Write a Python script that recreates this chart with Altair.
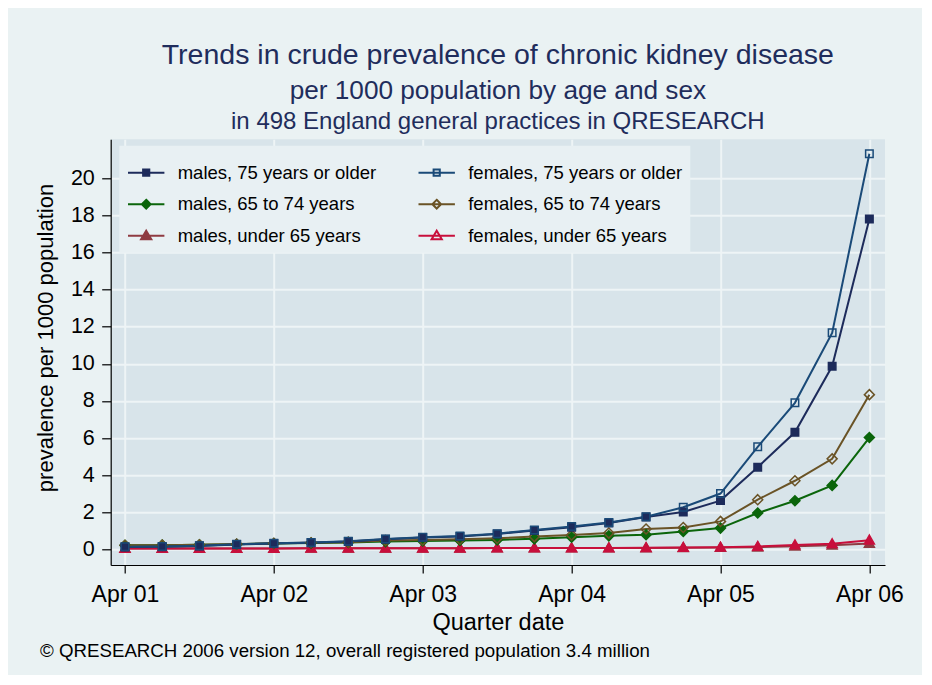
import altair as alt
import pandas as pd

# ---------------- data ----------------
QUARTERS = ["Apr 01", "Jul 01", "Oct 01", "Jan 02", "Apr 02", "Jul 02", "Oct 02",
            "Jan 03", "Apr 03", "Jul 03", "Oct 03", "Jan 04", "Apr 04", "Jul 04",
            "Oct 04", "Jan 05", "Apr 05", "Jul 05", "Oct 05", "Jan 06", "Apr 06"]
TICK_LABELS = ["Apr 01", "Apr 02", "Apr 03", "Apr 04", "Apr 05", "Apr 06"]

# legend order (filled column by column: males left, females right)
SERIES = ["males, 75 years or older", "males, 65 to 74 years", "males, under 65 years",
          "females, 75 years or older", "females, 65 to 74 years", "females, under 65 years"]

males_75 = [0.13, 0.15, 0.19, 0.27, 0.32, 0.36, 0.43, 0.55, 0.64, 0.70, 0.83,
            1.02, 1.20, 1.42, 1.75, 2.02, 2.63, 4.43, 6.31, 9.87, 17.80]
females_75 = [0.14, 0.16, 0.20, 0.28, 0.33, 0.37, 0.44, 0.56, 0.66, 0.72, 0.85,
              1.05, 1.23, 1.45, 1.76, 2.27, 3.01, 5.53, 7.90, 11.67, 21.32]
males_65 = [0.22, 0.23, 0.25, 0.28, 0.32, 0.34, 0.37, 0.42, 0.46, 0.48, 0.51,
            0.57, 0.66, 0.73, 0.79, 0.97, 1.15, 1.96, 2.62, 3.45, 6.03]
females_65 = [0.22, 0.23, 0.25, 0.29, 0.33, 0.36, 0.39, 0.48, 0.51, 0.55, 0.60,
              0.69, 0.78, 0.88, 1.10, 1.18, 1.51, 2.68, 3.70, 4.88, 8.34]
males_u65 = [0.05, 0.05, 0.05, 0.05, 0.05, 0.06, 0.06, 0.06, 0.06, 0.06, 0.07,
             0.07, 0.07, 0.08, 0.08, 0.09, 0.10, 0.12, 0.17, 0.22, 0.32]
females_u65 = [0.05, 0.05, 0.05, 0.05, 0.05, 0.06, 0.06, 0.06, 0.06, 0.06, 0.07,
               0.07, 0.07, 0.08, 0.09, 0.10, 0.12, 0.16, 0.24, 0.30, 0.50]

TITLE1 = "Trends in crude prevalence of chronic kidney disease"
TITLE2 = "per 1000 population by age and sex"
TITLE3 = "in 498 England general practices in QRESEARCH"
FOOTER = "\u00a9 QRESEARCH 2006 version 12, overall registered population 3.4 million"
X_TITLE = "Quarter date"
Y_TITLE = "prevalence per 1000 population"

# drawing order: under 65 first, 75+ last (on top)
draw_order = [("males, under 65 years", males_u65), ("females, under 65 years", females_u65),
              ("males, 65 to 74 years", males_65), ("females, 65 to 74 years", females_65),
              ("males, 75 years or older", males_75), ("females, 75 years or older", females_75)]
rows = []
for name, vals in draw_order:
    for i, v in enumerate(vals):
        rows.append({"q": i, "quarter": QUARTERS[i], "value": v, "series": name})
df = pd.DataFrame(rows)

# ---------------- styles (same order as SERIES) ----------------
COLORS = ["#1D2B5B", "#0B650B", "#8F3B42", "#1A4A78", "#6A5326", "#C80F3C"]
FILLS_PLOT = ["#1D2B5B", "#0B650B", "#8F3B42", "transparent", "transparent", "#C80F3C"]
FILLS_LEG = ["#1D2B5B", "#0B650B", "#8F3B42", "transparent", "transparent", "transparent"]
SQ = "M-0.75,-0.75H0.75V0.75H-0.75Z"
DI = "M0,-1L1,0L0,1L-1,0Z"
TR = "M0,-1L1,0.75H-1Z"
SHAPES_PLOT = [SQ, DI, TR, SQ, DI, TR]
LSQ = "M-1,0H1M-0.17,-0.17H0.17V0.17H-0.17Z"
LDI = "M-1,0H1M0,-0.24L0.24,0L0,0.24L-0.24,0Z"
LTR = "M-1,0H1M0,-0.27L0.28,0.2H-0.28Z"
SHAPES_LEG = [LSQ, LDI, LTR, LSQ, LDI, LTR]

FONT = "Liberation Sans"
OUTER_BG = "#EAF2F3"
PLOT_BG = "#D8E4EA"
GRID = "#EEF4F6"
TITLE_COLOR = "#1F2D5C"

W, H = 774.3, 425.7

label_expr = "[" + ",".join("'%s'" % t for t in TICK_LABELS) + "][round(datum.value/4)]"

x_enc = alt.X("q:Q",
              scale=alt.Scale(domain=[-0.384, 20.42], nice=False, zero=False),
              axis=alt.Axis(values=[0, 4, 8, 12, 16, 20], labelExpr=label_expr,
                            title=X_TITLE, tickSize=8, labelPadding=10,
                            labelFontSize=23, titleFontSize=23.5,
                            titleY=64, titleBaseline="alphabetic",
                            titleFontWeight="normal"))
y_enc = alt.Y("value:Q",
              scale=alt.Scale(domain=[-0.84, 22.1], nice=False, zero=False),
              axis=alt.Axis(values=list(range(0, 21, 2)), title=Y_TITLE,
                            tickSize=9, labelPadding=7.4, labelFontSize=21.5,
                            titleFontSize=22, titleFontWeight="normal",
                            titleX=-57.7, titleY=198.2, titleAngle=270,
                            titleAlign="center", titleBaseline="alphabetic"))

base = alt.Chart(df)

lines = base.mark_line(strokeWidth=2).encode(
    x=x_enc, y=y_enc,
    color=alt.Color("series:N", scale=alt.Scale(domain=SERIES, range=COLORS), legend=None),
)

points = base.mark_point(strokeWidth=1.5, opacity=1, size=100).encode(
    x=x_enc, y=y_enc,
    shape=alt.Shape("series:N", scale=alt.Scale(domain=SERIES, range=SHAPES_PLOT), legend=None),
    stroke=alt.Stroke("series:N", scale=alt.Scale(domain=SERIES, range=COLORS), legend=None),
    fill=alt.Fill("series:N", scale=alt.Scale(domain=SERIES, range=FILLS_PLOT), legend=None),
)

leg = alt.Legend(title=None, orient="none", legendX=8.6, legendY=6.5, columns=2,
                 columnPadding=37.5, rowPadding=2.5, symbolSize=1325, symbolStrokeWidth=2,
                 labelFontSize=18.5, labelFont=FONT, labelColor="black", labelLimit=400,
                 labelOffset=12, padding=7.4, fillColor="#E8F0F3", symbolOpacity=1)

legend_layer = base.transform_filter("false").mark_point(opacity=1, strokeWidth=2).encode(
    x=x_enc, y=y_enc,
    shape=alt.Shape("series:N", scale=alt.Scale(domain=SERIES, range=SHAPES_LEG), legend=leg),
    stroke=alt.Stroke("series:N", scale=alt.Scale(domain=SERIES, range=COLORS), legend=leg),
    fill=alt.Fill("series:N", scale=alt.Scale(domain=SERIES, range=FILLS_LEG), legend=leg),
)

one = alt.Data(values=[{"k": 1}])
t1 = alt.Chart(one).mark_text(text=TITLE1, fontSize=28.5, font=FONT, color=TITLE_COLOR,
                              align="center", baseline="alphabetic").encode(
    x=alt.value(W / 2), y=alt.value(-75.3))
t2 = alt.Chart(one).mark_text(text=TITLE2, fontSize=26.2, font=FONT, color=TITLE_COLOR,
                              align="center", baseline="alphabetic").encode(
    x=alt.value(W / 2), y=alt.value(-40))
t3 = alt.Chart(one).mark_text(text=TITLE3, fontSize=24, font=FONT, color=TITLE_COLOR,
                              align="center", baseline="alphabetic").encode(
    x=alt.value(W / 2), y=alt.value(-10))
foot = alt.Chart(one).mark_text(text=FOOTER, fontSize=18.7, font=FONT, color="black",
                                align="left", baseline="alphabetic").encode(
    x=alt.value(-70.7), y=alt.value(517.4))

chart = alt.layer(lines, points, legend_layer, t1, t2, t3, foot).resolve_scale(
    shape="independent", fill="independent", stroke="independent", color="independent"
).properties(
    width=W, height=H,
    autosize=alt.AutoSizeParams(type="none"),
    padding={"left": 102.7, "top": 131.3, "right": 37, "bottom": 110},
    background=OUTER_BG,
).configure_view(
    fill=PLOT_BG, stroke=None
).configure_axis(
    labelFont=FONT, titleFont=FONT, labelColor="black", titleColor="black",
    domainColor="black", tickColor="black", domainWidth=1.2, tickWidth=1.2,
    gridColor=GRID, gridWidth=2, grid=True
)

chart.save("out.html", embed_options={"renderer": "svg", "actions": False})
